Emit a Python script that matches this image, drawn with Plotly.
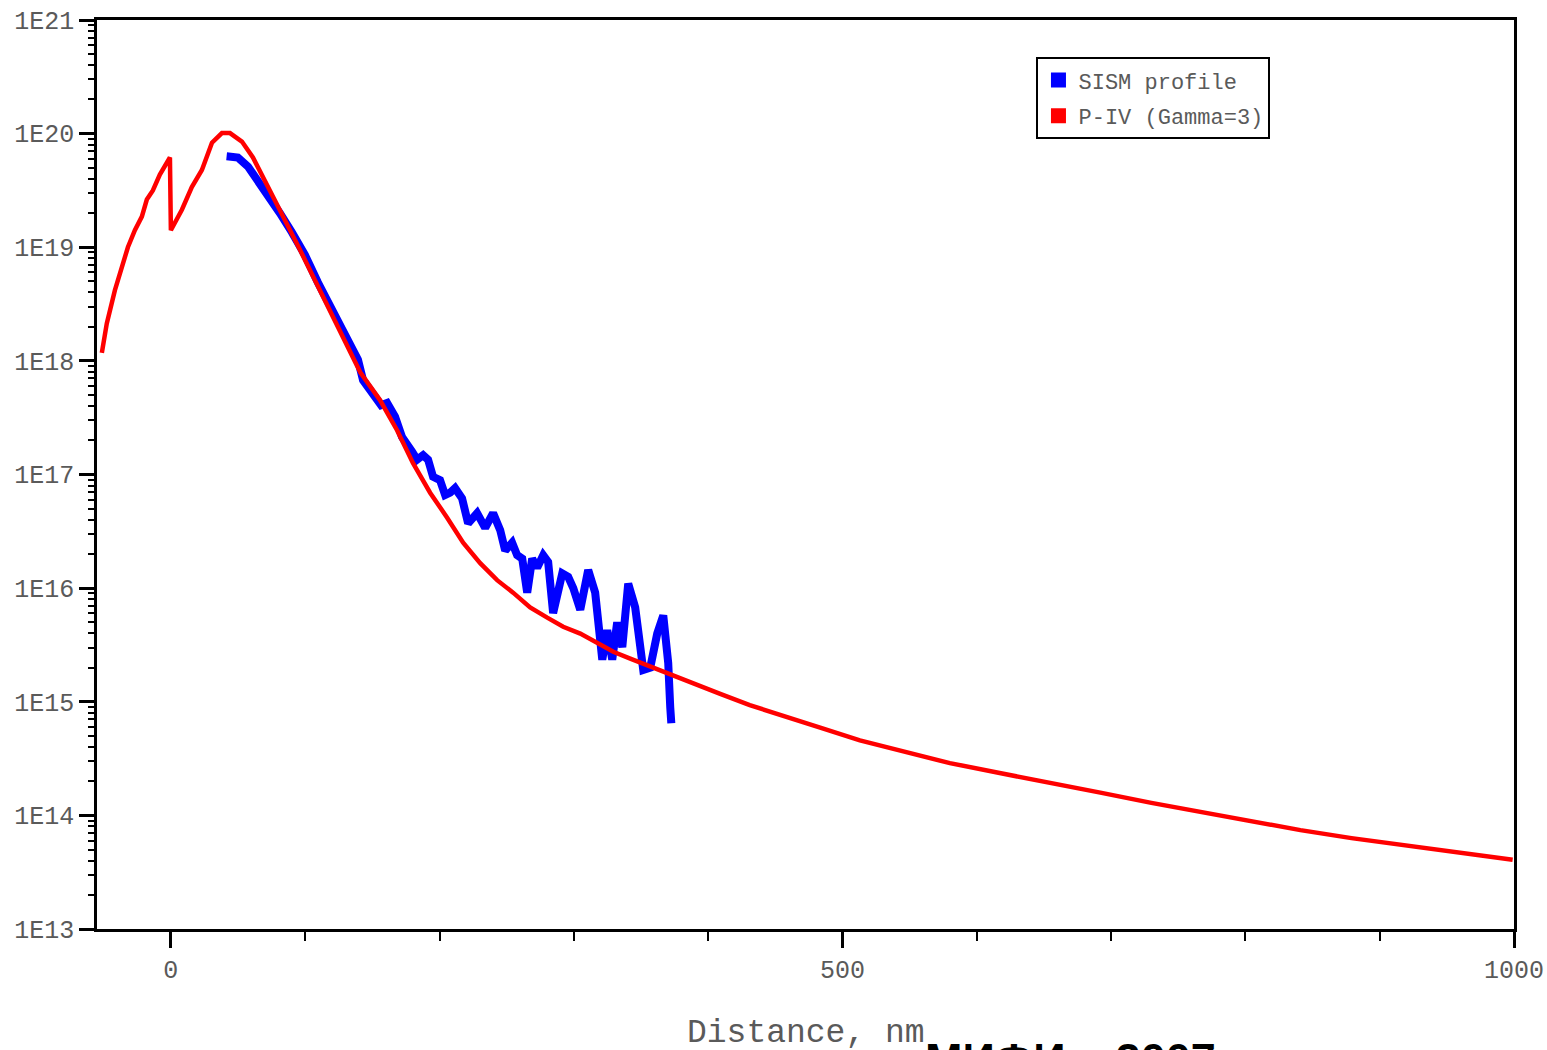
import plotly.graph_objects as go

# P-IV (Gamma=3) model profile: distance (nm), log10 concentration
piv_x = [-51.4, -47.7, -41.7, -36.5, -32.0, -26.8, -21.6, -17.9, -13.4, -8.2, -4.5, -0.7, 0,
         8.2, 15.6, 23.1, 30.6, 38.0, 44.0, 52.9, 61.1, 70.0, 81, 96, 111, 126, 141, 155.7,
         168.4, 180.3, 193.0, 205.7, 217.6, 230.3, 242.9, 254.8, 267.5, 280.2, 292.1, 304.8,
         317.4, 329.4, 342.0, 354.7, 366.6, 379.3, 391.9, 409, 431, 454, 484, 513, 543, 580,
         618, 655, 692, 730, 767, 804, 841, 879, 916, 953, 999]
piv_log = [18.07, 18.33, 18.62, 18.83, 19.00, 19.15, 19.27, 19.42, 19.50, 19.64, 19.71, 19.79,
           19.15, 19.33, 19.53, 19.68, 19.92, 20.005, 20.005, 19.93, 19.79, 19.59, 19.33,
           18.98, 18.62, 18.27, 17.90, 17.655, 17.39, 17.10, 16.84, 16.62, 16.40, 16.22, 16.07,
           15.96, 15.83, 15.74, 15.66, 15.60, 15.52, 15.44, 15.38, 15.32, 15.26, 15.21, 15.15,
           15.07, 14.97, 14.88, 14.77, 14.66, 14.57, 14.46, 14.37, 14.28, 14.20, 14.11, 14.03,
           13.94, 13.87, 13.80, 13.74, 13.68, 13.61]

# SISM measured profile
sism_x = [41.5, 49.9, 57.4, 64.8, 72.3, 81.2, 90.2, 99.9, 109.5, 118.5, 129.7, 139.3, 143.1,
          150.5, 156.5, 161.0, 166.9, 172.1, 176.6, 179.6, 183.3, 187.8, 191.5, 195.2, 200.4,
          204.2, 207.9, 211.6, 216.8, 221.3, 228.0, 234.0, 239.9, 245.2, 248.9, 254.1, 257.8,
          261.6, 265.3, 269.0, 272.7, 277.2, 280.9, 284.6, 291.4, 295.8, 299.6, 304.8, 310.7,
          315.9, 321.2, 324.9, 328.6, 332.3, 336.1, 340.5, 345.7, 351.7, 356.9, 362.1, 366.6,
          370.3, 371.8, 372.6]
sism_log = [19.80, 19.79, 19.71, 19.59, 19.46, 19.30, 19.13, 18.93, 18.69, 18.49, 18.23, 18.01,
            17.83, 17.72, 17.61, 17.63, 17.51, 17.33, 17.23, 17.20, 17.13, 17.17, 17.13, 16.98,
            16.95, 16.82, 16.84, 16.88, 16.79, 16.57, 16.66, 16.53, 16.66, 16.51, 16.33, 16.40,
            16.29, 16.26, 15.96, 16.26, 16.18, 16.29, 16.23, 15.78, 16.13, 16.10, 16.00, 15.81,
            16.16, 15.96, 15.37, 15.63, 15.37, 15.70, 15.48, 16.04, 15.83, 15.28, 15.30, 15.60,
            15.76, 15.34, 14.95, 14.81]

y_tick_vals = [1e13, 1e14, 1e15, 1e16, 1e17, 1e18, 1e19, 1e20, 1e21]
y_tick_text = ["1E13", "1E14", "1E15", "1E16", "1E17", "1E18", "1E19", "1E20", "1E21"]
x_tick_vals = [0, 500, 1000]
x_tick_text = ["0", "500", "1000"]

piv_y = [10 ** v for v in piv_log]
sism_y = [10 ** v for v in sism_log]

MONO = "Liberation Mono, Courier New, monospace"
TXT = "#5a5a5a"

fig = go.Figure()
fig.add_trace(go.Scatter(x=sism_x, y=sism_y, mode="lines", showlegend=False,
                         line=dict(color="#0000ff", width=8)))
fig.add_trace(go.Scatter(x=piv_x, y=piv_y, mode="lines", showlegend=False,
                         line=dict(color="#ff0000", width=4.5)))
# legend entries as filled squares
fig.add_trace(go.Scatter(x=[None], y=[None], mode="markers", name="SISM profile",
                         legendgroup="a",
                         marker=dict(symbol="square", color="#0000ff", size=15)))
fig.add_trace(go.Scatter(x=[None], y=[None], mode="markers", name="P-IV (Gamma=3)",
                         legendgroup="b",
                         marker=dict(symbol="square", color="#ff0000", size=15)))

fig.update_layout(
    width=1547, height=1050,
    margin=dict(l=97, r=33, t=20, b=121),
    plot_bgcolor="white", paper_bgcolor="white",
    font=dict(family=MONO, color=TXT),
    legend=dict(x=0.663, y=0.959, xanchor="left", yanchor="top",
                bordercolor="black", borderwidth=2, bgcolor="white",
                font=dict(family=MONO, size=22, color=TXT),
                itemwidth=30, tracegroupgap=4),
    annotations=[
        dict(text="Distance, nm", xref="paper", yref="paper", x=0.5, y=-0.1145,
             xanchor="center", yanchor="middle", showarrow=False,
             font=dict(family=MONO, size=33, color=TXT)),
        dict(text="<b>МИФИ – 2007</b>", xref="paper", yref="paper", x=0.687, y=-0.1137,
             xanchor="center", yanchor="top", showarrow=False,
             font=dict(family="Liberation Sans, Arial, sans-serif", size=45, color="black")),
    ],
)

fig.update_xaxes(
    range=[-55, 1000], showgrid=False, zeroline=False, automargin=False,
    showline=True, linecolor="black", linewidth=2.5, mirror=True,
    tickvals=x_tick_vals, ticktext=x_tick_text,
    ticks="outside", ticklen=16, tickwidth=2.5, tickcolor="black",
    tickfont=dict(family=MONO, size=25, color=TXT),
    minor=dict(dtick=100, ticks="outside", ticklen=9, tickwidth=2, tickcolor="black"),
)
fig.update_yaxes(
    type="log", range=[13, 21], showgrid=False, zeroline=False, automargin=False,
    showline=True, linecolor="black", linewidth=2.5, mirror=True,
    tickvals=y_tick_vals, ticktext=y_tick_text,
    ticks="outside", ticklen=15, tickwidth=3, tickcolor="black",
    tickfont=dict(family=MONO, size=25, color=TXT),
    minor=dict(dtick="D1", ticks="outside", ticklen=6, tickwidth=2, tickcolor="black"),
)

# remove the default 8px page-body margin so the figure sits at the window's corner
fig.write_html("out.html",
               config={"displayModeBar": False},
               post_script="document.body.style.margin='0';document.body.style.overflow='hidden';")
